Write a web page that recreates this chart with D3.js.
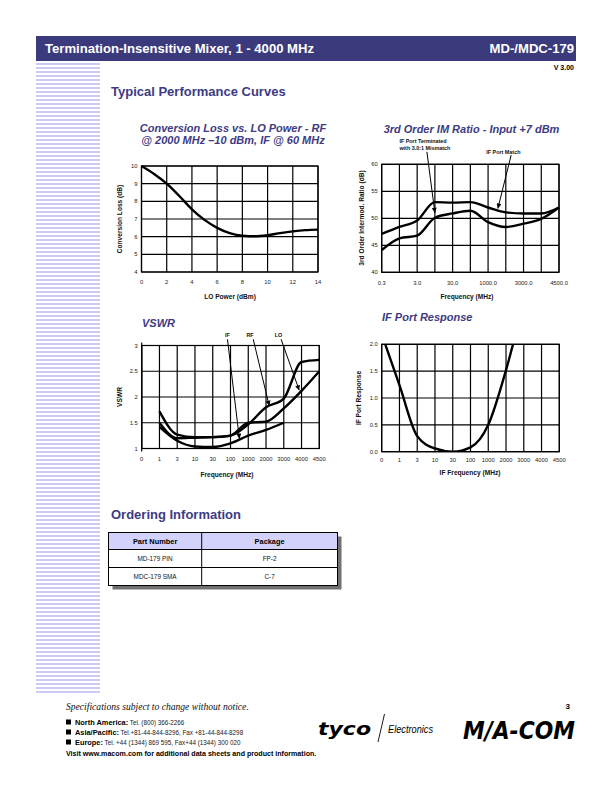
<!DOCTYPE html>
<html><head><meta charset="utf-8">
<script src="https://cdn.jsdelivr.net/npm/d3@7/dist/d3.min.js"></script>
<style>html,body{margin:0;padding:0;background:#fff}svg{display:block}</style>
</head><body>
<svg id="page" width="612" height="792" xmlns="http://www.w3.org/2000/svg"></svg>
<script>
// ---------------- Data ----------------
const loPower = [0,1,2,3,4,5,6,7,8,9,10,11,12,13,14];
const conversionLoss = [10.0,9.55,9.0,8.3,7.55,6.95,6.5,6.2,6.05,6.02,6.08,6.2,6.3,6.37,6.4];
const clXTicks = [0,2,4,6,8,10,12,14];
const clYTicks = [4,5,6,7,8,9,10];

const imFreqCats = ["0.3","","3.0","","30.0","","1000.0","","3000.0","","4500.0"];
const imPortMatch = [47.1,48.4,49.6,53.0,52.9,53.0,52.0,51.1,50.9,50.9,52.0];
const imPortTerminated = [44.1,46.3,46.8,50.1,50.9,51.4,49.3,48.4,49.0,49.9,52.0];
const imYTicks = [40,45,50,55,60];

const vswrFreqCats = ["0","1","3","10","30","100","1000","2000","3000","4000","4500"];
const vswrIF = [null,1.42,1.15,1.04,1.03,1.10,1.25,1.36,1.50,null,null];
const vswrRF = [null,1.50,1.20,1.21,1.22,1.25,1.47,1.80,1.97,2.68,2.72];
const vswrLO = [null,1.72,1.27,1.22,1.22,1.25,1.50,1.52,1.78,2.12,2.50];
const vswrYTicks = [1,1.5,2,2.5,3];

const ifFreqCats = ["0","1","3","10","30","100","1000","2000","3000","4000","4500"];
const ifResponse = [2.19,1.24,0.29,0.06,0.0,0.08,0.5,1.52,2.8,null,null];
const ifYTicks = [0,0.5,1,1.5,2];

const tableHeaders = ["Part Number","Package"];
const partNumbers = ["MD-179 PIN","MDC-179 SMA"];
const packages = ["FP-2","C-7"];

// ---------------- Setup ----------------
const svg = d3.select("#page");
const FONT = "'Liberation Sans', Arial, Helvetica, sans-serif";
const NAVY = "#3b3a7c";
const TITLE = "#3d3b82";

svg.append("rect").attr("width",612).attr("height",792).attr("fill","#fff");
const defs = svg.append("defs");
defs.append("marker").attr("id","arr").attr("viewBox","0 0 10 10")
  .attr("refX",10).attr("refY",5).attr("markerWidth",7).attr("markerHeight",5)
  .attr("markerUnits","userSpaceOnUse").attr("orient","auto")
  .append("path").attr("d","M0,0L10,5L0,10z").attr("fill","#000");

// header
svg.append("rect").attr("x",36).attr("y",36).attr("width",540).attr("height",25).attr("fill",NAVY);
svg.append("text").attr("x",45).attr("y",53).attr("fill","#fff").attr("font-family",FONT)
  .attr("font-weight","bold").attr("font-size",13.1).text("Termination-Insensitive Mixer, 1 - 4000 MHz");
svg.append("text").attr("x",574).attr("y",53).attr("text-anchor","end").attr("fill","#fff").attr("font-family",FONT)
  .attr("font-weight","bold").attr("font-size",13.1).text("MD-/MDC-179");
svg.append("text").attr("x",574).attr("y",70).attr("text-anchor","end").attr("fill","#000").attr("font-family",FONT)
  .attr("font-weight","bold").attr("font-size",7).text("V 3.00");

// left stripes
svg.append("g").selectAll("rect").data(d3.range(63,694,4)).join("rect")
  .attr("x",36).attr("y",d=>d).attr("width",64).attr("height",2).attr("fill","#cacaf5");

svg.append("text").attr("x",111).attr("y",96).attr("fill",TITLE).attr("font-family",FONT)
  .attr("font-weight","bold").attr("font-size",13).text("Typical Performance Curves");

// ---------------- Helpers ----------------
function frame(x, y, xVals, yVals){
  const g = svg.append("g").attr("stroke","#000").attr("stroke-width",1.2).attr("fill","none");
  const [x0,x1] = x.range(), [y0,y1] = y.range();
  g.selectAll("line.v").data(xVals).join("line").attr("class","v")
    .attr("x1",d=>x(d)).attr("x2",d=>x(d)).attr("y1",y0).attr("y2",y1);
  g.selectAll("line.h").data(yVals).join("line").attr("class","h")
    .attr("x1",x0).attr("x2",x1).attr("y1",d=>y(d)).attr("y2",d=>y(d));
  g.append("rect").attr("x",x0).attr("y",y1).attr("width",x1-x0).attr("height",y0-y1);
  return g;
}
function xTickLabels(x, y, vals, labels, dy){
  svg.append("g").selectAll("text").data(vals).join("text")
    .attr("x",d=>x(d)).attr("y",y.range()[0]+dy).attr("text-anchor","middle")
    .attr("font-family",FONT).attr("font-size",5.8).attr("fill","#222")
    .text((d,i)=>labels[i]);
}
function yTickLabels(x, y, vals, fmt, dx){
  svg.append("g").selectAll("text").data(vals).join("text")
    .attr("x",x.range()[0]-dx).attr("y",d=>y(d)+2).attr("text-anchor","end")
    .attr("font-family",FONT).attr("font-size",5.8).attr("fill","#222")
    .text(fmt);
}
function axisTitle(txt, cx, cy, rotate){
  const t = svg.append("text").attr("text-anchor","middle").attr("font-family",FONT)
    .attr("font-weight","bold").attr("font-size",6.6).attr("fill","#111").text(txt);
  if(rotate) t.attr("transform",`translate(${cx},${cy}) rotate(-90)`);
  else t.attr("x",cx).attr("y",cy);
}
function chartTitle(lines, x, y, anchor){
  lines.forEach((s,i)=>svg.append("text").attr("x",x).attr("y",y+i*12.3).attr("text-anchor",anchor)
    .attr("font-family",FONT).attr("font-weight","bold").attr("font-style","italic")
    .attr("font-size",11).attr("fill",TITLE).text(s));
}
function curve(x, y, xs, ys, clipId){
  const line = d3.line().defined((d,i)=>ys[i]!=null).x(d=>x(d)).y((d,i)=>y(ys[i])).curve(d3.curveMonotoneX);
  const p = svg.append("path").datum(xs).attr("d",line).attr("fill","none")
    .attr("stroke","#000").attr("stroke-width",2.4).attr("stroke-linejoin","round");
  if(clipId) p.attr("clip-path",`url(#${clipId})`);
}
function arrow(x, y, a){
  svg.append("line").attr("x1",x(a.fx)).attr("y1",y(a.fy)).attr("x2",x(a.tx)).attr("y2",y(a.ty))
    .attr("stroke","#000").attr("stroke-width",1).attr("marker-end","url(#arr)");
}

// ---------------- Chart 1: Conversion Loss ----------------
{
  const x = d3.scaleLinear().domain([0,14]).range([141.5,318]);
  const y = d3.scaleLinear().domain([4,10]).range([272,166]);
  frame(x,y,clXTicks,clYTicks);
  curve(x,y,loPower,conversionLoss);
  xTickLabels(x,y,clXTicks,clXTicks.map(String),11.5);
  yTickLabels(x,y,clYTicks,d=>String(d),4);
  axisTitle("LO Power (dBm)",230,299);
  axisTitle("Conversion Loss (dB)",122,219,true);
  chartTitle(["Conversion Loss vs. LO Power - RF","@ 2000 MHz \u201310 dBm, IF @ 60 MHz"],233,131.5,"middle");
}

// ---------------- Chart 2: 3rd order IM ----------------
{
  const idx = d3.range(imFreqCats.length);
  const x = d3.scaleLinear().domain([0,idx.length-1]).range([381.7,559]);
  const y = d3.scaleLinear().domain([40,60]).range([272.3,164.3]);
  frame(x,y,idx,imYTicks);
  curve(x,y,idx,imPortMatch);
  curve(x,y,idx,imPortTerminated);
  xTickLabels(x,y,idx,imFreqCats,12.5);
  yTickLabels(x,y,imYTicks,d=>String(d),4);
  axisTitle("Frequency (MHz)",467,299);
  axisTitle("3rd Order Intermod. Ratio (dB)",364,218,true);
  chartTitle(["3rd Order IM Ratio - Input +7 dBm"],471.5,133,"middle");
  const ann = svg.append("g").attr("font-family",FONT).attr("font-weight","bold").attr("font-size",5.4).attr("fill","#111");
  ann.append("text").attr("x",x(1.0)).attr("y",y(63.9)).text("IF Port Terminated");
  ann.append("text").attr("x",x(1.0)).attr("y",y(62.6)).text("with 3.0:1 Mismatch");
  ann.append("text").attr("x",x(5.9)).attr("y",y(62.0)).text("IF Port Match");
  arrow(x,y,{fx:2.55,fy:62.3,tx:3.0,ty:51.0});
  arrow(x,y,{fx:7.3,fy:61.7,tx:6.55,ty:51.8});
}

// ---------------- Chart 3: VSWR ----------------
{
  const idx = d3.range(vswrFreqCats.length);
  const x = d3.scaleLinear().domain([0,idx.length-1]).range([141.7,319.3]);
  const y = d3.scaleLinear().domain([1,3]).range([448.5,345.5]);
  frame(x,y,idx,vswrYTicks);
  svg.append("line").attr("x1",x(0)).attr("x2",x(0)).attr("y1",y(3)-3).attr("y2",y(1)+3).attr("stroke","#000").attr("stroke-width",1.2);
  curve(x,y,idx,vswrIF);
  curve(x,y,idx,vswrRF);
  curve(x,y,idx,vswrLO);
  xTickLabels(x,y,idx,vswrFreqCats,12.5);
  yTickLabels(x,y,vswrYTicks,d=>String(d),4);
  axisTitle("Frequency (MHz)",227,477);
  axisTitle("VSWR",122,397,true);
  chartTitle(["VSWR"],142,327,"start");
  const notes = [
    {label:"IF", lx:4.82, ly:3.17, fx:4.83, fy:3.12, tx:5.5, ty:1.19},
    {label:"RF", lx:6.1,  ly:3.17, fx:6.28, fy:3.12, tx:7.18, ty:1.83},
    {label:"LO", lx:7.7,  ly:3.17, fx:7.85, fy:3.12, tx:8.87, ty:2.13}
  ];
  svg.append("g").selectAll("text").data(notes).join("text")
    .attr("x",d=>x(d.lx)).attr("y",d=>y(d.ly)).attr("text-anchor","middle")
    .attr("font-family",FONT).attr("font-weight","bold").attr("font-size",5.4).attr("fill","#111").text(d=>d.label);
  notes.forEach(n=>arrow(x,y,n));
}

// ---------------- Chart 4: IF Port Response ----------------
{
  const idx = d3.range(ifFreqCats.length);
  const x = d3.scaleLinear().domain([0,idx.length-1]).range([381.7,559.3]);
  const y = d3.scaleLinear().domain([0,2]).range([451.7,344.3]);
  defs.append("clipPath").attr("id","ifclip").append("rect")
    .attr("x",x(0)).attr("y",y(2)).attr("width",x(10)-x(0)).attr("height",y(0)-y(2));
  frame(x,y,idx,ifYTicks);
  curve(x,y,idx,ifResponse,"ifclip");
  xTickLabels(x,y,idx,ifFreqCats,10);
  yTickLabels(x,y,ifYTicks,d3.format(".1f"),4);
  axisTitle("IF Frequency (MHz)",470,475);
  axisTitle("IF Port Response",361,398,true);
  chartTitle(["IF Port Response"],382,321,"start");
}

// ---------------- Ordering information ----------------
svg.append("text").attr("x",111).attr("y",519).attr("fill",TITLE).attr("font-family",FONT)
  .attr("font-weight","bold").attr("font-size",13).text("Ordering Information");
{
  const tx = 108.5, tw = 229, ty = 532.5, hh = 17, rh = 18, split = 201.7;
  const th = hh + rh*partNumbers.length;
  svg.append("rect").attr("x",tx+4).attr("y",ty+4).attr("width",tw).attr("height",th).attr("fill","#707070");
  svg.append("rect").attr("x",tx).attr("y",ty).attr("width",tw).attr("height",th).attr("fill","#fff");
  svg.append("rect").attr("x",tx).attr("y",ty).attr("width",tw).attr("height",hh).attr("fill","#d2d2fa");
  const g = svg.append("g").attr("stroke","#000").attr("stroke-width",1).attr("fill","none");
  g.append("rect").attr("x",tx).attr("y",ty).attr("width",tw).attr("height",th);
  g.append("line").attr("x1",split).attr("x2",split).attr("y1",ty).attr("y2",ty+th);
  g.selectAll("line.r").data(d3.range(partNumbers.length)).join("line").attr("class","r")
    .attr("x1",tx).attr("x2",tx+tw).attr("y1",i=>ty+hh+i*rh).attr("y2",i=>ty+hh+i*rh);
  const c1 = (tx+split)/2, c2 = (split+tx+tw)/2;
  tableHeaders.forEach((h,i)=>svg.append("text").attr("x",i?c2:c1).attr("y",ty+11.5).attr("text-anchor","middle")
    .attr("font-family",FONT).attr("font-weight","bold").attr("font-size",7.4).text(h));
  partNumbers.forEach((p,i)=>{
    svg.append("text").attr("x",c1).attr("y",ty+hh+i*rh+11.5).attr("text-anchor","middle")
      .attr("font-family",FONT).attr("font-size",6.4).attr("fill","#111").text(p);
    svg.append("text").attr("x",c2).attr("y",ty+hh+i*rh+11.5).attr("text-anchor","middle")
      .attr("font-family",FONT).attr("font-size",6.4).attr("fill","#111").text(packages[i]);
  });
}

// ---------------- Footer ----------------
svg.append("text").attr("x",66).attr("y",710).attr("font-family","'Liberation Serif', 'Times New Roman', serif")
  .attr("font-style","italic").attr("font-size",9.6).attr("fill","#111").text("Specifications subject to change without notice.");
const contacts = [
  ["North America:", " Tel. (800) 366-2266"],
  ["Asia/Pacific:", " Tel.+81-44-844-8296,  Fax +81-44-844-8298"],
  ["Europe:", " Tel. +44 (1344) 869 595,  Fax+44 (1344) 300 020"]
];
contacts.forEach((c,i)=>{
  const yy = 725 + i*10;
  svg.append("rect").attr("x",66).attr("y",yy-5.5).attr("width",5).attr("height",5).attr("fill","#000");
  const t = svg.append("text").attr("x",75).attr("y",yy).attr("font-family",FONT).attr("fill","#000");
  t.append("tspan").attr("font-weight","bold").attr("font-size",7.4).text(c[0]);
  t.append("tspan").attr("font-size",6.3).attr("fill","#222").text(c[1]);
});
svg.append("text").attr("x",66).attr("y",756).attr("font-family",FONT).attr("font-weight","bold")
  .attr("font-size",7.1).attr("fill","#000").text("Visit www.macom.com for additional data sheets and product information.");

svg.append("text").attr("x",570).attr("y",709).attr("text-anchor","end").attr("font-family",FONT)
  .attr("font-weight","bold").attr("font-size",8).text("3");

// logos
svg.append("text").attr("x",318).attr("y",735).attr("font-family","'DejaVu Sans', sans-serif")
  .attr("font-weight","bold").attr("font-style","italic").attr("font-size",17)
  .attr("textLength",53).attr("lengthAdjust","spacingAndGlyphs").text("tyco");
svg.append("line").attr("x1",378).attr("y1",742).attr("x2",384.5).attr("y2",714).attr("stroke","#000").attr("stroke-width",0.9);
svg.append("text").attr("x",388).attr("y",733).attr("font-family",FONT).attr("font-style","italic")
  .attr("font-size",10).attr("textLength",45).attr("lengthAdjust","spacingAndGlyphs").text("Electronics");
svg.append("text").attr("x",463).attr("y",739).attr("font-family","'DejaVu Sans', sans-serif")
  .attr("font-weight","bold").attr("font-style","italic").attr("font-size",25)
  .attr("textLength",112).attr("lengthAdjust","spacingAndGlyphs").text("M/A-COM");
</script>
</body></html>
